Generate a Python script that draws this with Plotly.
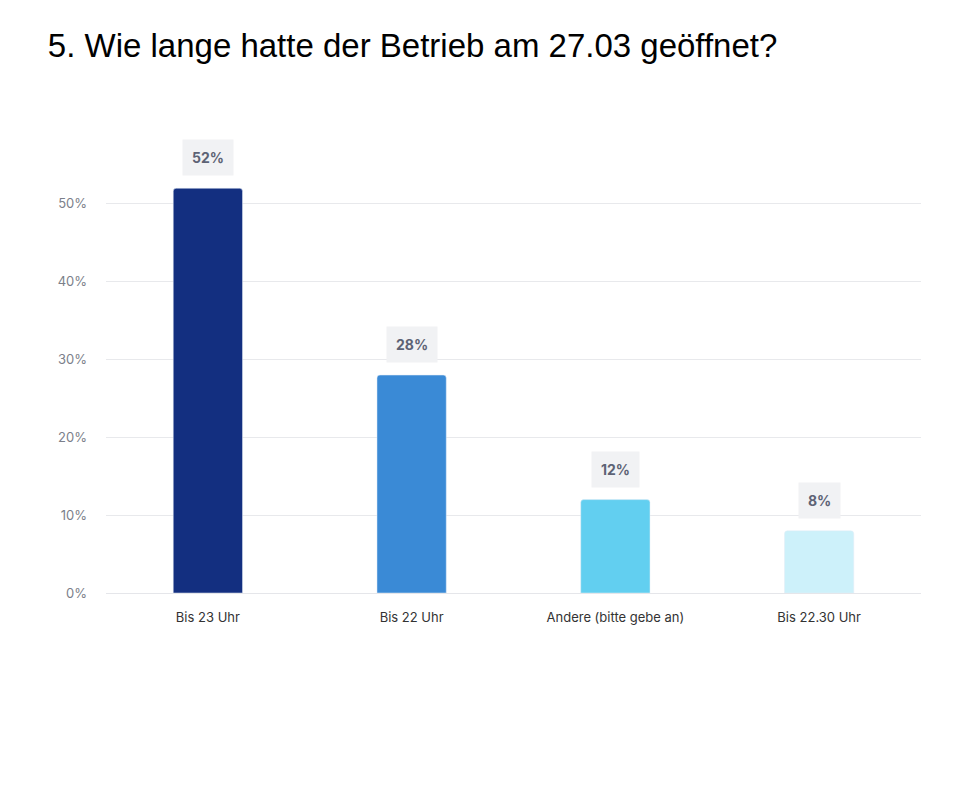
import plotly.graph_objects as go

categories = ["Bis 23 Uhr", "Bis 22 Uhr", "Andere (bitte gebe an)", "Bis 22.30 Uhr"]
values = [52, 28, 12, 8]
colors = ["#132f80", "#3a8ad6", "#62cff0", "#cdf1fa"]
ytick_vals = [0, 10, 20, 30, 40, 50]
ytick_text = ["0%", "10%", "20%", "30%", "40%", "50%"]

fig = go.Figure(go.Bar(
    x=categories, y=values,
    marker=dict(color=colors, cornerradius=3),
    width=0.34,
    hoverinfo="skip",
))

for c, v in zip(categories, values):
    fig.add_annotation(
        x=c, y=v, text=f"<b>{v}%</b>", showarrow=False,
        yanchor="bottom", yshift=12,
        bgcolor="#f1f2f4", borderpad=9,
        font=dict(family="Inter", size=14, color="#5d6375"),
    )

fig.update_layout(
    width=971, height=800,
    paper_bgcolor="white", plot_bgcolor="white",
    margin=dict(l=98, r=58, t=118, b=215, autoexpand=False),
    title=dict(text="5. Wie lange hatte der Betrieb am 27.03 geöffnet?",
               x=0.041, xanchor="left", y=0.968, yanchor="top",
               font=dict(family="Liberation Sans", size=33, color="black")),
    xaxis=dict(showgrid=False, tickfont=dict(family="Inter", size=13, color="#333"),
               showline=True, linecolor="#e5e6ea", ticks="", automargin=False,
               ticklabelstandoff=12),
    yaxis=dict(range=[0, 60], tickvals=ytick_vals, ticktext=ytick_text,
               gridcolor="#e8e9ec", zeroline=False, automargin=False,
               tickfont=dict(family="Inter", size=13, color="#7b7f8a"),
               ticklabelstandoff=18),
    showlegend=False,
)

fig.write_html("out.html")
